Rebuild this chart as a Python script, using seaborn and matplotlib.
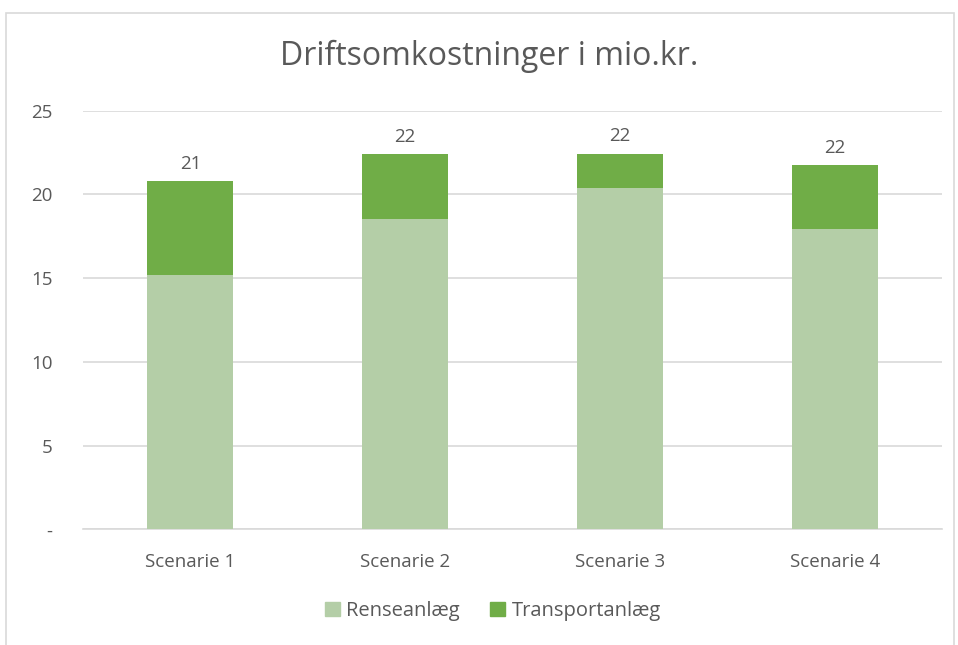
import matplotlib
matplotlib.use("Agg")
import matplotlib.pyplot as plt
import matplotlib.patches as mpatches
import seaborn as sns
import pandas as pd
import numpy as np

categories = ["Scenarie 1", "Scenarie 2", "Scenarie 3", "Scenarie 4"]
renseanlaeg = [15.2, 18.54, 20.39, 17.93]
transportanlaeg = [5.61, 3.87, 2.04, 3.80]
yticks = [0, 5, 10, 15, 20, 25]
ytick_labels = ["-", "5", "10", "15", "20", "25"]

light = "#B4CEA7"
dark = "#70AD47"
txt = "#595959"

sns.set_theme(style="white")
plt.rcParams["font.family"] = ["Open Sans", "DejaVu Sans"]

totals = [r + t for r, t in zip(renseanlaeg, transportanlaeg)]
df = pd.DataFrame({"Scenarie": categories, "Renseanlæg": renseanlaeg, "Total": totals})

fig = plt.figure(figsize=(9.58, 6.45), dpi=100)
W, H = 958, 645
ax = fig.add_axes([83 / W, (H - 529.4) / H, (942 - 83) / W, (529.4 - 110.7) / H])

sns.barplot(data=df, x="Scenarie", y="Total", color=dark, width=0.4, saturation=1,
            linewidth=0, edgecolor="none", ax=ax, zorder=2)
sns.barplot(data=df, x="Scenarie", y="Renseanlæg", color=light, width=0.4, saturation=1,
            linewidth=0, edgecolor="none", ax=ax, zorder=3)

ax.set_ylim(0, 25)
ax.set_xlim(-0.5, 3.5)
ax.set_yticks(yticks)
ax.set_yticklabels(ytick_labels)
ax.yaxis.grid(True, color="#D9D9D9", linewidth=1.2)
ax.set_axisbelow(True)
for s in ["top", "right", "left"]:
    ax.spines[s].set_visible(False)
ax.spines["bottom"].set_color("#D9D9D9")
ax.spines["bottom"].set_linewidth(1.2)
ax.tick_params(axis="both", length=0, colors=txt, labelsize=13.5)
ax.tick_params(axis="y", pad=22)
ax.tick_params(axis="x", pad=17)
ax.set_xlabel("")
ax.set_ylabel("")

for i, tot in enumerate(totals):
    ax.text(i, tot + 0.5, f"{tot:.0f}", ha="center", va="bottom", fontsize=13.5, color=txt)

fig.text(489 / W, 1 - 56 / H, "Driftsomkostninger i mio.kr.", ha="center", va="center",
         fontsize=23, color=txt)

handles = [mpatches.Patch(color=light, label="Renseanlæg"),
           mpatches.Patch(color=dark, label="Transportanlæg")]
fig.legend(handles=handles, loc="center", bbox_to_anchor=(493 / W, 1 - 611 / H), ncol=2,
           frameon=False, fontsize=14.5, labelcolor=txt, handlelength=0.75, handleheight=0.75,
           handletextpad=0.3, columnspacing=1.5)

border = mpatches.Rectangle((6 / W, -0.1), (954 - 6) / W, (H - 13) / H + 0.1, transform=fig.transFigure,
                            fill=False, edgecolor="#D9D9D9", linewidth=1.2)
fig.patches.append(border)

fig.savefig("out.png", dpi=100)
